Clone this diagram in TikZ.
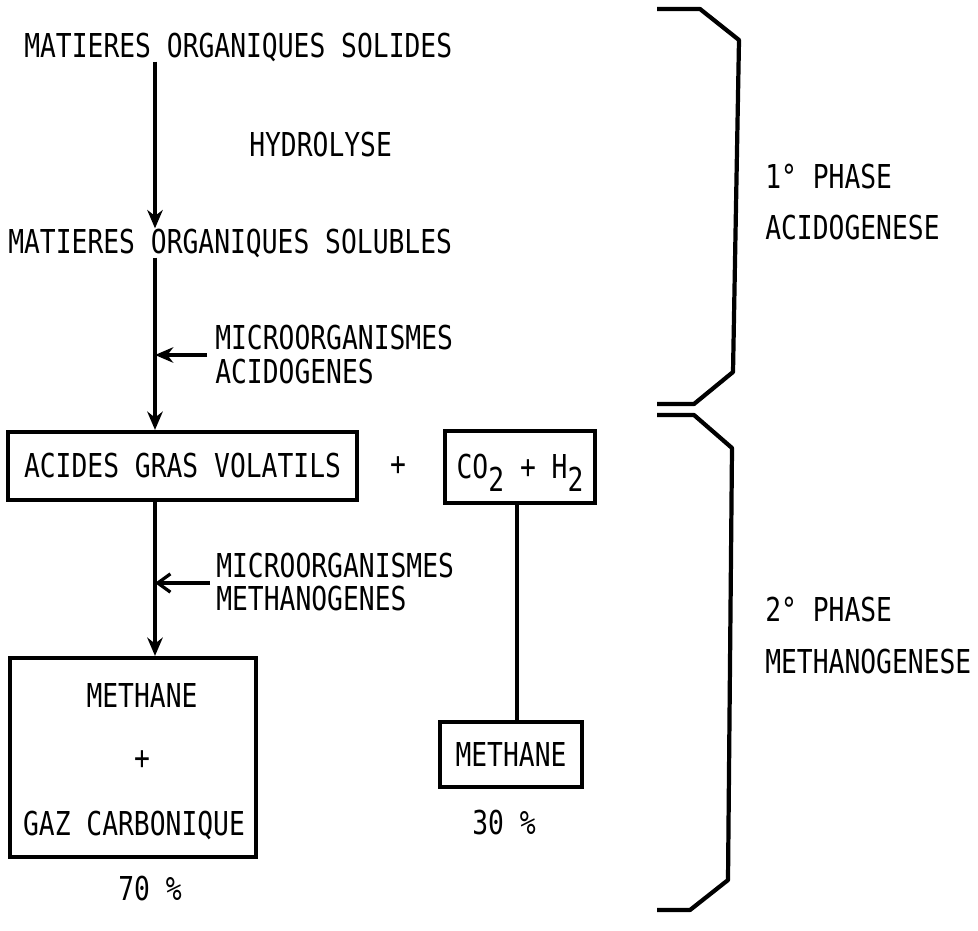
\documentclass[tikz,border=0pt]{standalone}
\usepackage{fontspec}
\usepackage{tikz}
\usetikzlibrary{arrows.meta}
\newfontfamily\machine[FakeStretch=0.8]{DejaVu Sans Mono}
\tikzset{txt/.style={font=\machine\fontsize{23.4}{28}\selectfont, inner sep=0pt},
  boite/.style={draw, line width=3pt, inner sep=0pt, font=\machine\fontsize{23.4}{28}\selectfont, text height=17pt, text depth=0pt},
  fleche/.style={line width=2.3pt, -{Stealth[length=13pt,width=11pt]}},
  flecheouv/.style={line width=2.3pt, -{Straight Barb[length=9pt,width=13pt,line width=2.3pt]}},
  trait/.style={line width=2.3pt},
  accolade/.style={line width=3pt, line join=round}}

\begin{document}
\begin{tikzpicture}[x=0.025cm,y=-0.025cm]
      \useasboundingbox (0,0) rectangle (978,930);
      \coordinate (axe) at (155,0);
      \coordinate (axe2) at (517,0);

      \node [txt, anchor=base west] (solides) at (24,57) {MATIERES ORGANIQUES SOLIDES};
      \node [txt, anchor=base west] (hydro) at (249,156) {HYDROLYSE};
      \node [txt, anchor=base west] (solubles) at (8,253) {MATIERES ORGANIQUES SOLUBLES};
      \node [txt, anchor=base west] (microA) at (215,349) {MICROORGANISMES};
      \node [txt, anchor=base west] (acido) at (215,383) {ACIDOGENES};
      \node [txt, anchor=base west] (microB) at (216,577) {MICROORGANISMES};
      \node [txt, anchor=base west] (metha) at (216,610) {METHANOGENES};

      \node [boite, minimum width=349*0.025cm, minimum height=68*0.025cm] (agv) at (182.5,466) {ACIDES GRAS VOLATILS};
      \node [txt] (plus) at (398,466) {+};
      \node [boite, minimum width=150*0.025cm, minimum height=72*0.025cm] (gaz) at (520,467) {CO\raisebox{-9pt}{2} + H\raisebox{-9pt}{2}};

      \node [boite, minimum width=246*0.025cm, minimum height=199*0.025cm] (gros) at (133,757.5) {};
      \node [txt, anchor=base] (grosA) at (142,707) {METHANE};
      \node [txt] (grosB) at (142,760) {+};
      \node [txt, anchor=base] (grosC) at (134,835) {GAZ CARBONIQUE};
      \node [txt, anchor=base] (pcA) at (150,900) {70 \%};

      \node [boite, minimum width=142*0.025cm, minimum height=65*0.025cm] (meth) at (511,754.5) {METHANE};
      \node [txt, anchor=base] (pcB) at (504,834) {30 \%};

      \coordinate (mA) at (207,355);
      \coordinate (mB) at (210,583);
      \draw [fleche] (solides.south -| axe) -- (solubles.north -| axe);
      \draw [fleche] (solubles.south -| axe) -- (agv.north -| axe);
      \draw [fleche] (mA) -- (mA -| axe);
      \draw [fleche] (agv.south -| axe) -- (gros.north -| axe);
      \draw [flecheouv] (mB) -- (mB -| axe);
      \draw [trait] (gaz.south -| axe2) -- (meth.north -| axe2);

      \draw [accolade] (657,9) -- (700,9) -- (739,40) -- (733,372) -- (694,404) -- (657,404);
      \draw [accolade] (657,415) -- (694,415) -- (732,448) -- (728,880) -- (690,910) -- (657,910);

      \node [txt, anchor=base west] (phaseA) at (765,188) {1° PHASE};
      \node [txt, anchor=base west] (nomA) at (765,239) {ACIDOGENESE};
      \node [txt, anchor=base west] (phaseB) at (765,621) {2° PHASE};
      \node [txt, anchor=base west] (nomB) at (765,673) {METHANOGENESE};
\end{tikzpicture}
\end{document}
